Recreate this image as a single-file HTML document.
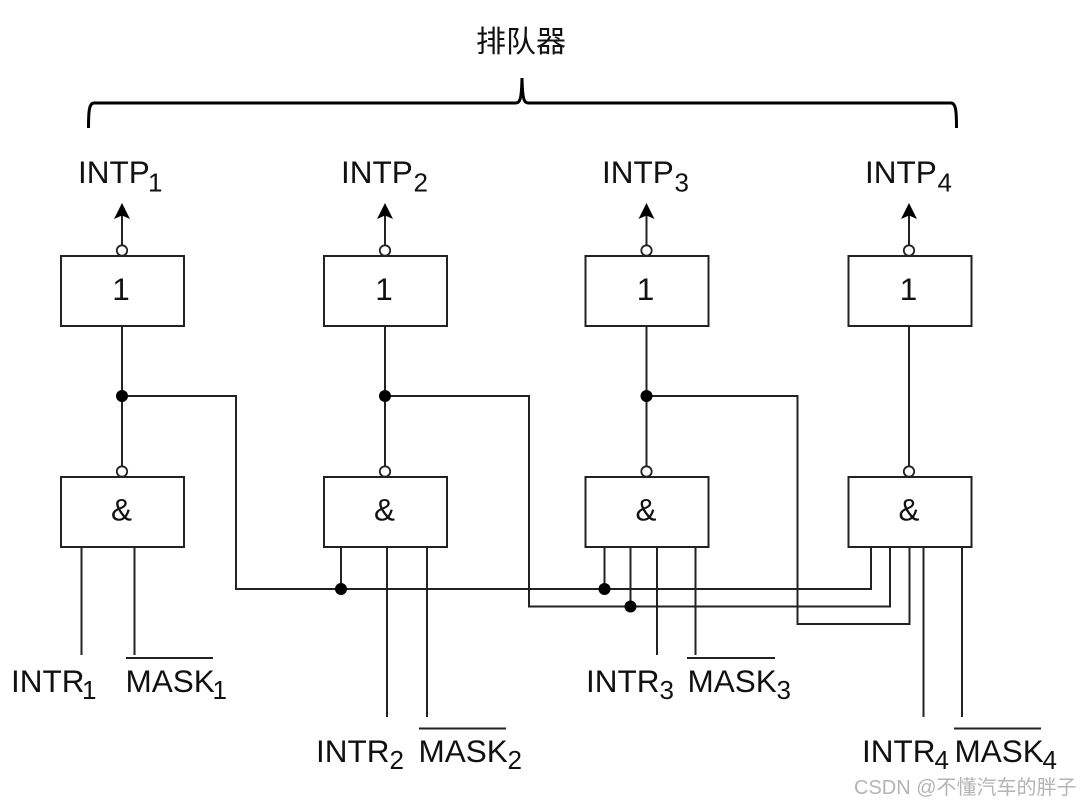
<!DOCTYPE html>
<html><head><meta charset="utf-8"><style>
html,body{margin:0;padding:0;background:#fff}
svg{display:block}
text{font-family:"Liberation Sans","Noto Sans CJK SC",sans-serif;fill:#111}
.t{font-size:31.500px}
.s{font-size:26px}
.l{stroke:#222;stroke-width:2;fill:none}
.b{stroke:#222;stroke-width:2;fill:#fff}
.d{fill:#000}
.o{stroke:#222;stroke-width:1.800;fill:#fff}
</style></head><body>
<svg width="1080" height="804" viewBox="0 0 1080 804" xmlns="http://www.w3.org/2000/svg">
<rect width="1080" height="804" fill="#fff"/>
<text x="476" y="52" style="font-size:30px;font-family:'Liberation Sans','Noto Sans CJK SC',sans-serif">排队器</text>
<path d="M88.500 128 C88.500 112 89 103 94 103 L516 103 C520 103 521.500 99 522 78 C522.500 99 524 103 528 103 L951 103 C956 103 956.500 112 956.500 128" fill="none" stroke="#000" stroke-width="3"/>

<!-- Verticals, top -->
<g class="l">
<path d="M122 245V212M385 245V212M646.500 245V212M909 245V212"/>
<path d="M122 326V466M385 326V466M646.500 326V466M909 326V466"/>
<path d="M122 396H236V589H871V547"/>
<path d="M385 396H529V606.500H890V547"/>
<path d="M646.500 396H797.500V624H909.500V547"/>
<path d="M341 547V589M604.500 547V589M630.500 547V606.500"/>
<path d="M81.500 547V655M134.500 547V655"/>
<path d="M387 547V717M427 547V717"/>
<path d="M657 547V655M695.500 547V655"/>
<path d="M923.500 547V717M962 547V717"/>
<path d="M126 658H213M419 728.500H506M687 658H775M954 728.500H1041"/>
</g>
<!-- Arrowheads -->
<path class="d" d="M122 203L130 219L122 215.500L114 219ZM385 203L393 219L385 215.500L377 219ZM646.500 203L654.500 219L646.500 215.500L638.500 219ZM909 203L917 219L909 215.500L901 219Z"/>
<!-- Boxes -->
<rect class="b" x="61" y="256" width="123" height="70"/>
<rect class="b" x="324" y="256" width="123" height="70"/>
<rect class="b" x="585.500" y="256" width="123" height="70"/>
<rect class="b" x="848.500" y="256" width="123" height="70"/>
<rect class="b" x="61" y="477" width="123" height="70"/>
<rect class="b" x="324" y="477" width="123" height="70"/>
<rect class="b" x="585.500" y="477" width="123" height="70"/>
<rect class="b" x="848.500" y="477" width="123" height="70"/>
<!-- Inversion circles -->
<g class="o">
<circle cx="122" cy="250.500" r="5.200"/><circle cx="385" cy="250.500" r="5.200"/><circle cx="646.500" cy="250.500" r="5.200"/><circle cx="909" cy="250.500" r="5.200"/>
<circle cx="122" cy="471.500" r="5.200"/><circle cx="385" cy="471.500" r="5.200"/><circle cx="646.500" cy="471.500" r="5.200"/><circle cx="909" cy="471.500" r="5.200"/>
</g>
<!-- Junctions -->
<g class="d">
<circle cx="122" cy="396" r="6"/><circle cx="385" cy="396" r="6"/><circle cx="646.500" cy="396" r="6"/>
<circle cx="341" cy="589" r="6"/><circle cx="604.500" cy="589" r="6"/><circle cx="630.500" cy="606.500" r="6"/>
</g>
<!-- Box labels -->
<g class="t" text-anchor="middle">
<text x="121" y="300">1</text><text x="384" y="300">1</text><text x="645.500" y="300">1</text><text x="908.500" y="300">1</text>
<text x="121.500" y="520.500">&amp;</text><text x="384.500" y="520.500">&amp;</text><text x="646" y="520.500">&amp;</text><text x="909" y="520.500">&amp;</text>
</g>
<!-- Top labels -->
<text class="t" x="78" y="183">INTP</text><text class="s" x="148" y="191.500">1</text>
<text class="t" x="341" y="183">INTP</text><text class="s" x="413.500" y="191.500">2</text>
<text class="t" x="602" y="183">INTP</text><text class="s" x="674.500" y="191.500">3</text>
<text class="t" x="865" y="183">INTP</text><text class="s" x="937.500" y="191.500">4</text>
<!-- Bottom labels -->
<text class="t" x="11" y="692">INTR</text><text class="s" x="82" y="699">1</text>
<text class="t" x="125.500" y="692">MASK</text><text class="s" x="212.500" y="699">1</text>
<text class="t" x="316" y="762">INTR</text><text class="s" x="389.500" y="769">2</text>
<text class="t" x="418.500" y="762">MASK</text><text class="s" x="507.500" y="769">2</text>
<text class="t" x="586" y="692">INTR</text><text class="s" x="659.500" y="699">3</text>
<text class="t" x="687.500" y="692">MASK</text><text class="s" x="776.500" y="699">3</text>
<text class="t" x="862" y="762">INTR</text><text class="s" x="934.500" y="769">4</text>
<text class="t" x="954.500" y="762">MASK</text><text class="s" x="1042.500" y="769">4</text>
<text x="854" y="794" style="font-size:20px;fill:#b4b4b4">CSDN @不懂汽车的胖子</text>
</svg>
</body></html>
